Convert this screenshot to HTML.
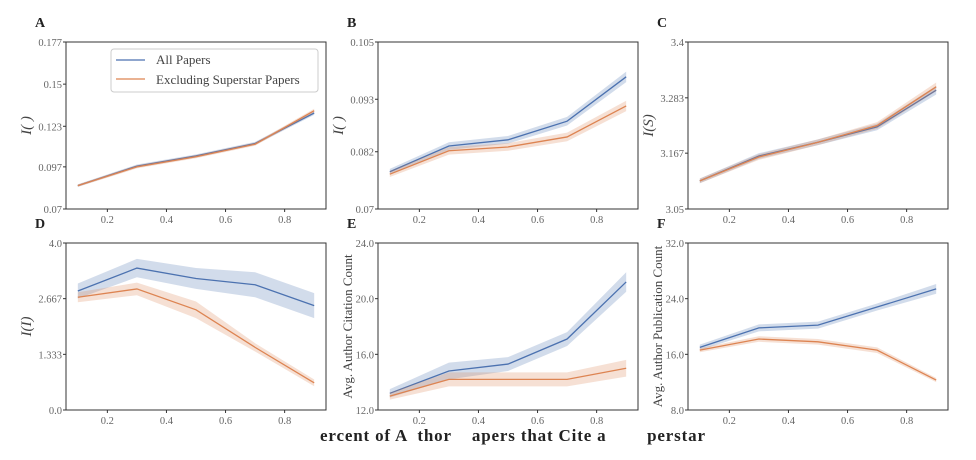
<!DOCTYPE html>
<html><head><meta charset="utf-8"><style>
html,body{margin:0;padding:0;background:#fff;}
svg{display:block;font-family:"Liberation Serif",serif;}
</style></head><body>
<svg id="fig" width="976" height="460" viewBox="0 0 976 460" xmlns="http://www.w3.org/2000/svg">
<text x="320" y="441" font-size="17" font-weight="bold" fill="#222" textLength="385" lengthAdjust="spacing" xml:space="preserve">ercent of A  thor    apers that Cite a        perstar</text>
</svg>
<script>
const xVals=[0.1,0.3,0.5,0.7,0.9];
const xTicks=[0.2,0.4,0.6,0.8];
const panelLetters=['A','B','C','D','E','F'];
const yLabels=['I( )','I( )','I(S)','I(I)','Avg. Author Citation Count','Avg. Author Publication Count'];
const yRanges=[[0.07,0.177],[0.07,0.105],[3.05,3.4],[0,4],[12,24],[8,32]];
const yTickA=['0.07','0.097','0.123','0.15','0.177'];
const yTickB=['0.07','0.082','0.093','0.105'];
const yTickC=['3.05','3.167','3.283','3.4'];
const yTickD=['0.0','1.333','2.667','4.0'];
const yTickE=['12.0','16.0','20.0','24.0'];
const yTickF=['8.0','16.0','24.0','32.0'];
const allA=[0.085,0.0975,0.104,0.112,0.1315], exA=[0.085,0.097,0.1035,0.1115,0.133];
const allB=[0.0778,0.0832,0.0845,0.0884,0.0977], exB=[0.0773,0.0822,0.083,0.0851,0.0916];
const allC=[3.109,3.161,3.19,3.222,3.299], exC=[3.109,3.159,3.19,3.225,3.306];
const allD=[2.85,3.4,3.15,3.0,2.5], exD=[2.7,2.9,2.4,1.5,0.65];
const allE=[13.2,14.8,15.3,17.1,21.2], exE=[13.0,14.2,14.2,14.2,15.0];
const allF=[17.0,19.8,20.2,22.8,25.4], exF=[16.6,18.2,17.8,16.6,12.3];
const bandAllA=[0.0008,0.001,0.001,0.001,0.0012], bandExA=[0.0008,0.001,0.001,0.001,0.0012];
const bandAllB=[0.0006,0.0008,0.0008,0.0009,0.0011], bandExB=[0.0006,0.0008,0.0008,0.0009,0.0011];
const bandAllC=[0.005,0.006,0.006,0.007,0.009], bandExC=[0.005,0.006,0.006,0.007,0.009];
const bandAllD=[0.18,0.22,0.25,0.3,0.3], bandExD=[0.12,0.15,0.2,0.1,0.08];
const bandAllE=[0.3,0.6,0.5,0.5,0.7], bandExE=[0.25,0.5,0.5,0.5,0.6];
const bandAllF=[0.4,0.5,0.5,0.5,0.7], bandExF=[0.3,0.4,0.4,0.4,0.3];

const tickSets=[yTickA,yTickB,yTickC,yTickD,yTickE,yTickF];
const allS=[allA,allB,allC,allD,allE,allF], exS=[exA,exB,exC,exD,exE,exF];
const bAll=[bandAllA,bandAllB,bandAllC,bandAllD,bandAllE,bandAllF], bEx=[bandExA,bandExB,bandExC,bandExD,bandExE,bandExF];
const lefts=[66,378,688], tops=[42,243], W=260, H=167;
const NS='http://www.w3.org/2000/svg', svg=document.getElementById('fig');
function mk(t,a,p){const e=document.createElementNS(NS,t);for(const k in a)e.setAttribute(k,a[k]);(p||svg).appendChild(e);return e;}
for(let i=0;i<6;i++){
  const L=lefts[i%3], T=tops[Math.floor(i/3)], [y0,y1]=yRanges[i];
  const xs=v=>L+(v-0.06)/0.88*W, ys=v=>T+H-(v-y0)/(y1-y0)*H;
  const g=mk('g',{});
  
  
  const lt=mk('text',{x:L-31,y:T-15,'font-size':14,'font-weight':'bold',fill:'#222'},g);lt.textContent=panelLetters[i];
  
  const series=[[allS[i],bAll[i],'#4c72b0','all-papers'],[exS[i],bEx[i],'#dd8452','excluding-superstar']];
  series.forEach(([d,b,c,n])=>{
    let up=d.map((v,j)=>xs(xVals[j])+','+ys(v+b[j])), dn=d.map((v,j)=>xs(xVals[j])+','+ys(v-b[j])).reverse();
    const band=mk('polygon',{points:up.concat(dn).join(' '),fill:c,'fill-opacity':0.25},g);
    
    const ln=mk('polyline',{points:d.map((v,j)=>xs(xVals[j])+','+ys(v)).join(' '),fill:'none',stroke:c,'stroke-width':1.3},g);
    
  });
  mk('rect',{x:L,y:T,width:W,height:H,fill:'none',stroke:'#333','stroke-width':1},g);
  xTicks.forEach(t=>{mk('line',{x1:xs(t),x2:xs(t),y1:T+H,y2:T+H+3,stroke:'#333'},g);
    const tx=mk('text',{x:xs(t),y:T+H+14,'font-size':10.5,fill:'#666','text-anchor':'middle'},g);tx.textContent=t.toFixed(1);
    });
  const ts=tickSets[i];
  ts.forEach(t=>{const v=parseFloat(t);mk('line',{x1:L-3,x2:L,y1:ys(v),y2:ys(v),stroke:'#333'},g);
    const tx=mk('text',{x:L-4,y:ys(v)+4,'font-size':10.5,fill:'#666','text-anchor':'end'},g);tx.textContent=t;
    });
  const yl=mk('text',{x:0,y:0,'font-size':i>=4?13:15,fill:'#444','text-anchor':'middle','font-style':i>=4?'normal':'italic',
    transform:`translate(${L-(i>=4?26:35)},${T+H/2}) rotate(-90)`},g);yl.textContent=yLabels[i];
  
}
const lg=mk('g',{});


mk('rect',{x:111,y:49,width:207,height:43,rx:3,fill:'#fff','fill-opacity':0.9,stroke:'#ccc'},lg);
mk('line',{x1:116,x2:145,y1:60,y2:60,stroke:'#4c72b0','stroke-width':1.3},lg);
mk('line',{x1:116,x2:145,y1:79,y2:79,stroke:'#dd8452','stroke-width':1.3},lg);
const l1=mk('text',{x:156,y:64,'font-size':13,fill:'#444'},lg);l1.textContent='All Papers';

const l2=mk('text',{x:156,y:84,'font-size':13,fill:'#444'},lg);l2.textContent='Excluding Superstar Papers';

</script>
</body></html>
